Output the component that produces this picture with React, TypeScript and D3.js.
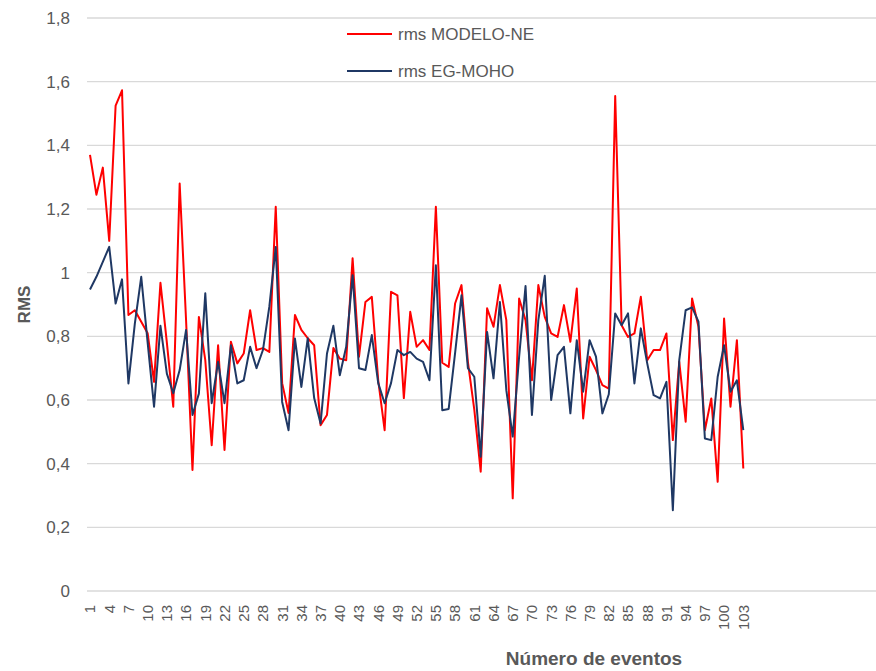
import React from "react";
import * as d3 from "d3";

const categories: number[] = Array.from({ length: 103 }, (_, i) => i + 1);

const rmsModeloNE: number[] = [
  1.37, 1.245, 1.33, 1.1, 1.525, 1.573, 0.867, 0.882, 0.846, 0.81,
  0.657, 0.968, 0.78, 0.579, 1.28, 0.85, 0.38, 0.861, 0.725, 0.458,
  0.772, 0.443, 0.783, 0.715, 0.746, 0.882, 0.757, 0.763, 0.751, 1.207,
  0.653, 0.559, 0.867, 0.82, 0.794, 0.772, 0.521, 0.553, 0.763, 0.73,
  0.725, 1.045, 0.736, 0.908, 0.924, 0.662, 0.505, 0.94, 0.929, 0.606,
  0.877, 0.767, 0.788, 0.757, 1.207, 0.717, 0.704, 0.903, 0.961, 0.72,
  0.57, 0.375, 0.888, 0.83, 0.961, 0.851, 0.291, 0.919, 0.851, 0.662,
  0.961, 0.861, 0.809, 0.798, 0.898, 0.783, 0.95, 0.542, 0.736, 0.694,
  0.647, 0.636, 1.555, 0.835, 0.798, 0.809, 0.924, 0.725, 0.757, 0.757,
  0.809, 0.474, 0.72, 0.532, 0.919, 0.83, 0.505, 0.605, 0.343, 0.856,
  0.579, 0.788, 0.385,
];

const rmsEGMoho: number[] = [
  0.947, 0.987, 1.034, 1.081, 0.903, 0.979, 0.652, 0.84, 0.987, 0.78,
  0.579, 0.833, 0.683, 0.621, 0.694, 0.82, 0.553, 0.62, 0.935, 0.59,
  0.72, 0.59, 0.772, 0.652, 0.662, 0.767, 0.7, 0.757, 0.893, 1.081,
  0.594, 0.505, 0.793, 0.641, 0.794, 0.606, 0.526, 0.746, 0.833, 0.678,
  0.767, 0.992, 0.7, 0.694, 0.804, 0.653, 0.59, 0.653, 0.757, 0.741,
  0.751, 0.73, 0.72, 0.662, 1.023, 0.568, 0.572, 0.747, 0.929, 0.7,
  0.673, 0.422, 0.814, 0.668, 0.908, 0.631, 0.485, 0.736, 0.958, 0.553,
  0.851, 0.99, 0.6, 0.741, 0.767, 0.558, 0.788, 0.626, 0.788, 0.736,
  0.558, 0.618, 0.872, 0.835, 0.872, 0.652, 0.825, 0.715, 0.615, 0.605,
  0.657, 0.254, 0.725, 0.882, 0.891, 0.846, 0.479, 0.474, 0.673, 0.772,
  0.626, 0.662, 0.505,
];

const yTicks: number[] = [0, 0.2, 0.4, 0.6, 0.8, 1, 1.2, 1.4, 1.6, 1.8];
const xTickLabels: number[] = categories.filter((c) => (c - 1) % 3 === 0);

const seriesNames = ["rms MODELO-NE", "rms EG-MOHO"];
const seriesColors = ["#ff0000", "#1f3864"];

const W = 876;
const H = 671;
const plotLeft = 87;
const plotRight = 876;
const plotTop = 18;
const plotBottom = 591;

const fmt = (v: number) => (Math.round(v * 10) / 10).toString().replace(".", ",");

export default function App() {
  const x = d3.scaleLinear().domain([1, 103]).range([90, 743.3]);
  const y = d3.scaleLinear().domain([0, 1.8]).range([plotBottom, plotTop]);
  const line = d3
    .line<number>()
    .x((_, i) => x(categories[i]))
    .y((d) => y(d));

  const font = "'Liberation Sans', Arial, sans-serif";
  const gray = "#595959";

  return (
    <svg
      width={W}
      height={H}
      style={{ position: "absolute", left: 0, top: 0, background: "#fff" }}
      fontFamily={font}
    >
      <rect x={0} y={0} width={W} height={H} fill="#fff" />
      {yTicks.map((t) => (
        <g key={t}>
          <line
            x1={plotLeft}
            x2={plotRight}
            y1={y(t)}
            y2={y(t)}
            stroke="#d9d9d9"
            strokeWidth={1.3}
          />
          <text
            x={70}
            y={y(t)}
            dy="0.36em"
            textAnchor="end"
            fontSize={17}
            fill={gray}
          >
            {fmt(t)}
          </text>
        </g>
      ))}
      {xTickLabels.map((c) => (
        <text
          key={c}
          transform={`translate(${x(c)},605) rotate(-90)`}
          dy="0.36em"
          textAnchor="end"
          fontSize={15}
          fill={gray}
        >
          {c}
        </text>
      ))}
      <path
        d={line(rmsModeloNE) || ""}
        fill="none"
        stroke={seriesColors[0]}
        strokeWidth={2}
        strokeLinejoin="round"
      />
      <path
        d={line(rmsEGMoho) || ""}
        fill="none"
        stroke={seriesColors[1]}
        strokeWidth={2}
        strokeLinejoin="round"
      />
      <text
        transform={`translate(30,${(plotTop + plotBottom) / 2}) rotate(-90)`}
        textAnchor="middle"
        fontSize={17}
        fontWeight="bold"
        fill={gray}
      >
        RMS
      </text>
      <text x={594} y={665} textAnchor="middle" fontSize={19} fontWeight="bold" fill={gray}>
        Número de eventos
      </text>
      {seriesNames.map((n, i) => (
        <g key={n} transform={`translate(347,${34 + i * 37})`}>
          <line x1={0} x2={45} y1={0} y2={0} stroke={seriesColors[i]} strokeWidth={2} />
          <text x={51} y={0} dy="0.36em" fontSize={17} fill={gray}>
            {n}
          </text>
        </g>
      ))}
    </svg>
  );
}
